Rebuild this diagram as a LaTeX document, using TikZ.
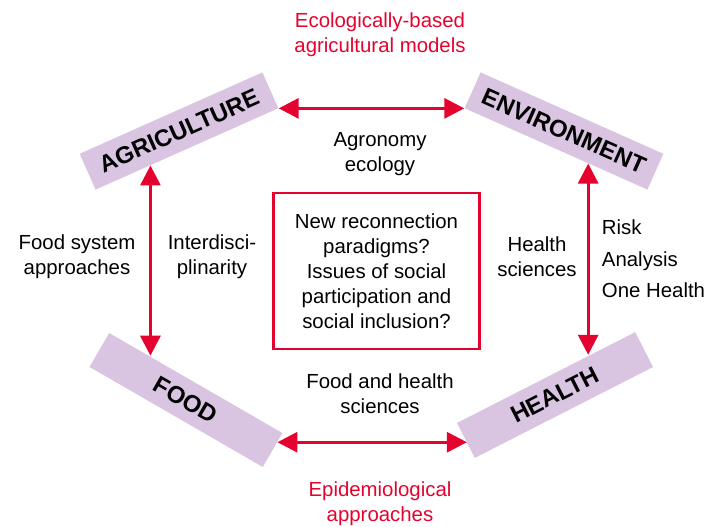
\documentclass[tikz,border=0pt]{standalone}
\usepackage{fontspec}
\setmainfont{Liberation Sans}
\usepackage{xcolor}
\usepackage{tikz}
\usetikzlibrary{positioning,arrows.meta,calc}
\definecolor{linkred}{HTML}{E4032E}
\definecolor{lilac}{HTML}{D9C5E1}

\begin{document}
\begin{tikzpicture}[x=0.025cm,y=-0.025cm,>={Triangle[width=5mm,length=5mm]},
  txt/.style={align=center,font=\fontsize{14.5}{17.8}\selectfont},
  redtxt/.style={txt,text=linkred},
  sector/.style={fill=lilac,minimum width=5cm,minimum height=9.8mm,inner sep=0pt,font=\fontsize{17}{20}\selectfont\bfseries},
  link/.style={<->,draw=linkred,line width=2.2pt}]
\useasboundingbox (0,0) rectangle (706,527);
% the four sectors
\node[sector,rotate=24] (agri) at (179,131) {AGRICULTURE};
\node[sector,rotate=-24] (env) at (564,131) {ENVIRONMENT};
\node[sector,rotate=-30] (food) at (186,400) {FOOD};
\node[sector,rotate=27] (health) at (555,395) {HEALTH};
% links between sectors
\coordinate (a1) at ($(agri.south west)!0.3!(agri.south east)$);
\coordinate (f1) at ($(food.north west)!0.23!(food.north east)$);
\coordinate (e1) at ($(env.south west)!0.676!(env.south east)$);
\coordinate (h1) at ($(health.north west)!0.747!(health.north east)$);
\coordinate (f2) at ($(food.north east)!0.27!(food.south east)$);
\coordinate (h2) at ($(health.north west)!0.57!(health.south west)$);
\draw[link] (agri.south east) -- (env.south west);
\draw[link] (a1) -- (a1 |- f1);
\draw[link] (e1) -- (e1 |- h1);
\draw[link] (f2) -- (f2 -| h2);
% labels
\node[redtxt] (ecomodels) at (380,35) {Ecologically-based\\agricultural models};
\node[txt] (agronomy) at (380,154) {Agronomy\\ecology};
\node[txt] (foodsys) at (77,257) {Food system\\approaches};
\node[txt] (interdisc) at (212,257) {Interdisci-\\plinarity};
\node[txt] (healthsci) at (537,257) {Health\\sciences};
\node[txt,align=left,anchor=west,font=\fontsize{14.5}{22.5}\selectfont] (risk) at (597,259) {Risk\\Analysis\\One Health};
\node[txt] (foodhealth) at (380,394) {Food and health\\sciences};
\node[redtxt] (epidemio) at (380,504) {Epidemiological\\approaches};
% centre question
\node[txt,draw=linkred,line width=1.5pt,minimum width=5.15cm,minimum height=3.9cm] (issues) at (376.5,271)
  {New reconnection\\paradigms?\\Issues of social\\participation and\\social inclusion?};
\end{tikzpicture}
\end{document}
